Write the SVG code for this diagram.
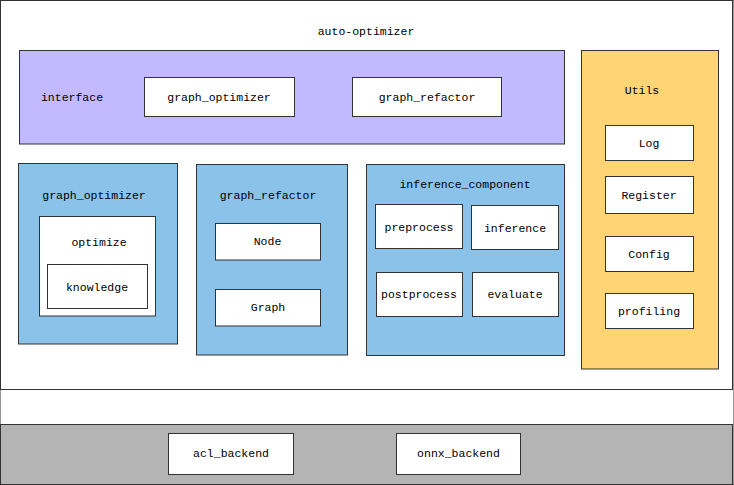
<svg xmlns="http://www.w3.org/2000/svg" width="734" height="485" viewBox="0 0 734 485">
<style>
rect{stroke:#333333;stroke-width:1}
.w{fill:#ffffff}
.blue{fill:#8bc2ea}
text{font-family:"Liberation Mono","DejaVu Sans Mono",monospace;font-size:11.5px;fill:#000000;text-anchor:middle;dominant-baseline:central}
</style>
<rect x="0" y="0" width="734" height="485" fill="#ffffff" stroke="none"/>
<g id="auto-optimizer">
<rect class="w" x="0.5" y="0.5" width="732" height="389"/>
<text x="366" y="31">auto-optimizer</text>
</g>
<g id="interface">
<rect x="19.5" y="50.5" width="545" height="93.5" fill="#c3b9ff"/>
<text x="72" y="97">interface</text>
</g>
<g id="if-graph-optimizer">
<rect class="w" x="144.5" y="77.5" width="150" height="39"/>
<text x="219" y="97">graph_optimizer</text>
</g>
<g id="if-graph-refactor">
<rect class="w" x="352.5" y="77.5" width="149" height="39"/>
<text x="427" y="97">graph_refactor</text>
</g>
<g id="utils">
<rect x="581.5" y="50.5" width="137" height="318.5" fill="#fed474"/>
<text x="642" y="90.5">Utils</text>
</g>
<g id="log">
<rect class="w" x="605.5" y="125.5" width="88" height="35"/>
<text x="649" y="143">Log</text>
</g>
<g id="register">
<rect class="w" x="605.5" y="176.5" width="88" height="37"/>
<text x="649" y="195">Register</text>
</g>
<g id="config">
<rect class="w" x="605.5" y="236.5" width="88" height="35"/>
<text x="649" y="254">Config</text>
</g>
<g id="profiling">
<rect class="w" x="605.5" y="293.5" width="88" height="35"/>
<text x="649" y="311">profiling</text>
</g>
<g id="graph-optimizer">
<rect class="blue" x="18.5" y="163.5" width="159" height="180.5"/>
<text x="94" y="195">graph_optimizer</text>
</g>
<g id="optimize">
<rect class="w" x="39.5" y="216.5" width="116" height="99.5"/>
<text x="99" y="242">optimize</text>
</g>
<g id="knowledge">
<rect class="w" x="47.5" y="264.5" width="100" height="44"/>
<text x="97" y="287">knowledge</text>
</g>
<g id="graph-refactor">
<rect class="blue" x="196.5" y="164.5" width="151" height="190.5"/>
<text x="268" y="195">graph_refactor</text>
</g>
<g id="node">
<rect class="w" x="215.5" y="223.5" width="105" height="36.5"/>
<text x="267.5" y="241.5">Node</text>
</g>
<g id="graph">
<rect class="w" x="215.5" y="289.5" width="105" height="36.5"/>
<text x="268" y="307.5">Graph</text>
</g>
<g id="inference-component">
<rect class="blue" x="366.5" y="164.5" width="198" height="191"/>
<text x="465" y="184">inference_component</text>
</g>
<g id="preprocess">
<rect class="w" x="375.5" y="204.5" width="87" height="44"/>
<text x="419" y="227">preprocess</text>
</g>
<g id="inference">
<rect class="w" x="471.5" y="205.5" width="87" height="44"/>
<text x="515" y="228">inference</text>
</g>
<g id="postprocess">
<rect class="w" x="376.5" y="272.5" width="86" height="44"/>
<text x="419" y="294">postprocess</text>
</g>
<g id="evaluate">
<rect class="w" x="472.5" y="272.5" width="86" height="44"/>
<text x="515" y="294">evaluate</text>
</g>
<g id="backend">
<rect x="0.5" y="424.5" width="732" height="60" fill="#b3b4b3"/>
</g>
<g id="acl-backend">
<rect class="w" x="168.5" y="433.5" width="125" height="41"/>
<text x="231" y="453.5">acl_backend</text>
</g>
<g id="onnx-backend">
<rect class="w" x="396.5" y="433.5" width="124" height="41"/>
<text x="458.5" y="453.5">onnx_backend</text>
</g>
<g id="connectors"/>
</svg>
